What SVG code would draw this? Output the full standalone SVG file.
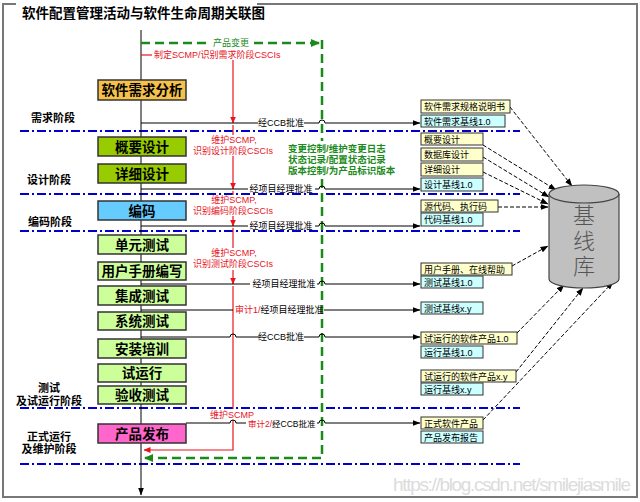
<svg xmlns="http://www.w3.org/2000/svg" width="640" height="502" viewBox="0 0 640 502">
<defs>
<marker id="ab" markerWidth="8" markerHeight="6" refX="7.5" refY="3" orient="auto" markerUnits="userSpaceOnUse"><path d="M0,0 L8,3 L0,6 Z" fill="#000"/></marker>
<marker id="ar" markerWidth="7" markerHeight="6" refX="6.5" refY="3" orient="auto" markerUnits="userSpaceOnUse"><path d="M0,0 L7,3 L0,6 Z" fill="#e8141e"/></marker>
<marker id="ag" markerWidth="9" markerHeight="8" refX="8" refY="4" orient="auto" markerUnits="userSpaceOnUse"><path d="M0,0 L9,4 L0,8 Z" fill="#1a8a1a"/></marker>
</defs>
<style>
text{font-family:"Liberation Sans","Noto Sans CJK SC",sans-serif}
.node rect{stroke:#333;stroke-width:1.5}
.node text{font-size:13.5px;font-weight:bold;text-anchor:middle;fill:#000}
.box rect{stroke:#333;stroke-width:1}
.box text{font-size:9px;fill:#000}
.y{fill:#ffffcc}.c{fill:#ccffff}
.phase{font-size:11px;font-weight:bold;text-anchor:middle;fill:#000}
.blue{stroke:#0000cc;stroke-width:2;stroke-dasharray:9,3,2,3;fill:none}
.blk{stroke:#000;stroke-width:1;fill:none}
.red{stroke:#e8141e;stroke-width:1.2;fill:none}
.grn{stroke:#1a8a1a;stroke-width:2.5;stroke-dasharray:9,5;fill:none}
.dsh{stroke:#000;stroke-width:1;stroke-dasharray:4,2;fill:none}
.lbl{font-size:9px;fill:#000;text-anchor:middle}
.rl{font-size:9px;fill:#e8141e;text-anchor:middle}
.gl{font-size:9.5px;font-weight:bold;fill:#1a8a1a}
.lib{font-size:22px;font-weight:300;fill:#555;text-anchor:middle}
</style>
<rect x="0" y="0" width="640" height="502" fill="#fff"/>
<path d="M16,4 H3 V497 H637 V4 H257" fill="none" stroke="#777" stroke-width="2"/>
<text x="22" y="18" font-size="13.5" font-weight="bold" fill="#000">软件配置管理活动与软件生命周期关联图</text>

<g id="phases">
<text class="phase" x="53" y="122">需求阶段</text>
<text class="phase" x="49" y="184">设计阶段</text>
<text class="phase" x="50" y="226">编码阶段</text>
<text class="phase" x="49" y="392">测试</text>
<text class="phase" x="49" y="405">及试运行阶段</text>
<text class="phase" x="49" y="441">正式运行</text>
<text class="phase" x="49" y="453">及维护阶段</text>
</g>

<g id="separators">
<path class="blue" d="M20,131 H520"/>
<path class="blue" d="M20,194 H520"/>
<path class="blue" d="M20,231 H520"/>
<path class="blue" d="M20,408 H520"/>
<path class="blue" d="M20,464 H520"/>
</g>

<g id="connectors">
<path class="blk" d="M141,30 V495" marker-end="url(#ab)"/>
<!-- green change control loop -->
<path class="grn" d="M141,43 H208"/>
<path class="grn" d="M254,43 H319" marker-end="url(#ag)"/>
<path class="grn" d="M322,40 V141"/>
<path class="grn" d="M322,179 V458 H145" marker-end="url(#ag)"/>
<text x="231" y="46" font-size="9" fill="#1a8a1a" text-anchor="middle">产品变更</text>
<!-- red SCM line -->
<path class="red" d="M141,55 H152"/>
<text x="154" y="58" font-size="9" fill="#e8141e">制定SCMP/识别需求阶段CSCIs</text>
<path class="red" d="M233,60 V123" marker-end="url(#ar)"/>
<path class="red" d="M233,125 V135"/>
<path class="red" d="M233,156 V189" marker-end="url(#ar)"/>
<path class="red" d="M233,191 V195"/>
<path class="red" d="M233,216 V226" marker-end="url(#ar)"/>
<path class="red" d="M233,228 V248"/>
<path class="red" d="M233,270 V284" marker-end="url(#ar)"/>
<path class="red" d="M233,286 V409"/>
<path class="red" d="M233,420 V450 H144" marker-end="url(#ar)"/>
<text class="rl" x="234" y="143">维护SCMP,</text>
<text class="rl" x="233" y="154">识别设计阶段CSCIs</text>
<text class="rl" x="234" y="203">维护SCMP,</text>
<text class="rl" x="233" y="214">识别编码阶段CSCIs</text>
<text class="rl" x="234" y="256">维护SCMP,</text>
<text class="rl" x="233" y="267">识别测试阶段CSCIs</text>
<text class="rl" x="232" y="417.5">维护SCMP</text>
<!-- black approval lines -->
<path class="blk" d="M141,123 H258"/>
<path class="blk" d="M304,123 H319 a3,3 0 0 1 6,0 H420" marker-end="url(#ab)"/>
<text class="lbl" x="281" y="126">经CCB批准</text>
<path class="blk" d="M141,189 H248"/>
<path class="blk" d="M315,189 H319 a3,3 0 0 1 6,0 H420" marker-end="url(#ab)"/>
<text class="lbl" x="281" y="192">经项目经理批准</text>
<path class="blk" d="M141,226 H248"/>
<path class="blk" d="M315,226 H319 a3,3 0 0 1 6,0 H420" marker-end="url(#ab)"/>
<text class="lbl" x="281" y="229">经项目经理批准</text>
<path class="blk" d="M141,284 H250"/>
<path class="blk" d="M317,284 H319 a3,3 0 0 1 6,0 H420" marker-end="url(#ab)"/>
<text class="lbl" x="284" y="287">经项目经理批准</text>
<path class="blk" d="M141,310 H233"/>
<path class="blk" d="M324,310 H420" marker-end="url(#ab)"/>
<text x="235" y="313" font-size="9"><tspan fill="#e8141e">审计1/</tspan><tspan fill="#000">经项目经理批准</tspan></text>
<path class="blk" d="M141,337 H230 a3,3 0 0 1 6,0 H259"/>
<path class="blk" d="M304,337 H319 a3,3 0 0 1 6,0 H420" marker-end="url(#ab)"/>
<text class="lbl" x="281" y="340">经CCB批准</text>
<path class="blk" d="M186,423 H230 a3,3 0 0 1 6,0 H246"/>
<path class="blk" d="M317,423 H319 a3,3 0 0 1 6,0 H420" marker-end="url(#ab)"/>
<text x="248" y="427" font-size="8.5"><tspan fill="#e8141e">审计2/</tspan><tspan fill="#000">经CCB批准</tspan></text>
<!-- green note -->
<text class="gl" x="288" y="152">变更控制/维护变更日志</text>
<text class="gl" x="288" y="163">状态记录/配置状态记录</text>
<text class="gl" x="288" y="174">版本控制/为产品标识版本</text>
<!-- dashed to baseline library -->
<path class="dsh" d="M510,107 L572,186" marker-end="url(#ab)"/>
<path class="dsh" d="M483,145 L556,190" marker-end="url(#ab)"/>
<path class="dsh" d="M483,157 L549,197" marker-end="url(#ab)"/>
<path class="dsh" d="M483,172 L548,204" marker-end="url(#ab)"/>
<path class="dsh" d="M498,207 L548,207" stroke-width="1.5" stroke-dasharray="6,3" marker-end="url(#ab)"/>
<path class="dsh" d="M512,266 L548,246" marker-end="url(#ab)"/>
<path class="dsh" d="M517,333 L564,285" marker-end="url(#ab)"/>
<path class="dsh" d="M516,372 L583,288" marker-end="url(#ab)"/>
<path class="dsh" d="M483,420 L613,282" marker-end="url(#ab)"/>
</g>

<g id="n-req" class="node"><rect x="98" y="80" width="88" height="20" fill="#f5c14a"/><text x="142" y="95">软件需求分析</text></g>
<g id="n-hld" class="node"><rect x="98" y="137" width="88" height="19" fill="#99cc00"/><text x="142" y="151.5">概要设计</text></g>
<g id="n-dd" class="node"><rect x="98" y="164" width="88" height="19" fill="#99cc00"/><text x="142" y="178.5">详细设计</text></g>
<g id="n-code" class="node"><rect x="98" y="201" width="88" height="19" fill="#66ccff"/><text x="142" y="215.5">编码</text></g>
<g id="n-ut" class="node"><rect x="98" y="235" width="88" height="19" fill="#ccff99"/><text x="142" y="249.5">单元测试</text></g>
<g id="n-man" class="node"><rect x="98" y="262" width="88" height="18" fill="#ccff99"/><text x="142" y="276">用户手册编写</text></g>
<g id="n-it" class="node"><rect x="98" y="286" width="88" height="19" fill="#ccff99"/><text x="142" y="300.5">集成测试</text></g>
<g id="n-st" class="node"><rect x="98" y="312" width="88" height="18" fill="#ccff99"/><text x="142" y="326">系统测试</text></g>
<g id="n-inst" class="node"><rect x="98" y="339" width="88" height="19" fill="#ccff99"/><text x="142" y="353.5">安装培训</text></g>
<g id="n-trial" class="node"><rect x="98" y="364" width="88" height="18" fill="#ccff99"/><text x="142" y="378">试运行</text></g>
<g id="n-acc" class="node"><rect x="98" y="386" width="88" height="18" fill="#ccff99"/><text x="142" y="400">验收测试</text></g>
<g id="n-rel" class="node"><rect x="98" y="424" width="88" height="19" fill="#ff66cc"/><text x="142" y="438.5">产品发布</text></g>

<g id="b-srs" class="box"><rect class="y" x="421" y="100" width="89" height="13"/><text x="424" y="110">软件需求规格说明书</text></g>
<g id="b-rbl" class="box"><rect class="c" x="421" y="115" width="84" height="12"/><text x="424" y="124.5">软件需求基线1.0</text></g>
<g id="b-hld" class="box"><rect class="y" x="421" y="133" width="62" height="12"/><text x="424" y="142.5">概要设计</text></g>
<g id="b-db" class="box"><rect class="y" x="421" y="148" width="62" height="13"/><text x="424" y="158">数据库设计</text></g>
<g id="b-dd" class="box"><rect class="y" x="421" y="163" width="62" height="13"/><text x="424" y="173">详细设计</text></g>
<g id="b-dbl" class="box"><rect class="c" x="421" y="178" width="62" height="13"/><text x="424" y="188">设计基线1.0</text></g>
<g id="b-src" class="box"><rect class="y" x="421" y="200" width="77" height="12"/><text x="424" y="209.5">源代码、执行码</text></g>
<g id="b-cbl" class="box"><rect class="c" x="421" y="213" width="62" height="13"/><text x="424" y="223">代码基线1.0</text></g>
<g id="b-man" class="box"><rect class="y" x="421" y="263" width="91" height="12"/><text x="424" y="272.5">用户手册、在线帮助</text></g>
<g id="b-tbl" class="box"><rect class="c" x="421" y="276" width="62" height="12"/><text x="424" y="285.5">测试基线1.0</text></g>
<g id="b-tblx" class="box"><rect class="c" x="421" y="302" width="62" height="12"/><text x="424" y="311.5">测试基线x.y</text></g>
<g id="b-trp" class="box"><rect class="y" x="421" y="332" width="96" height="12"/><text x="424" y="341.5">试运行的软件产品1.0</text></g>
<g id="b-obl" class="box"><rect class="c" x="421" y="346" width="62" height="12"/><text x="424" y="355.5">运行基线1.0</text></g>
<g id="b-trpx" class="box"><rect class="y" x="421" y="370" width="95" height="12"/><text x="424" y="379.5">试运行的软件产品x.y</text></g>
<g id="b-oblx" class="box"><rect class="c" x="421" y="383" width="62" height="12"/><text x="424" y="392.5">运行基线x.y</text></g>
<g id="b-prod" class="box"><rect class="y" x="421" y="417" width="62" height="12"/><text x="424" y="426.5">正式软件产品</text></g>
<g id="b-rep" class="box"><rect class="c" x="421" y="431" width="62" height="12"/><text x="424" y="440.5">产品发布报告</text></g>

<g id="baseline-lib">
<path d="M549,194 A35,9 0 0 1 619,194 V279 A35,9 0 0 1 549,279 Z" fill="#c0c0c0" stroke="#444" stroke-width="1.2"/>
<path d="M549,194 A35,9 0 0 0 619,194" fill="none" stroke="#444" stroke-width="1.2"/>
<text class="lib" x="584" y="223">基</text>
<text class="lib" x="584" y="249">线</text>
<text class="lib" x="584" y="274">库</text>
</g>

<text x="631" y="491" font-size="19" fill="#dcdcdc" text-anchor="end" textLength="238">https://blog.csdn.net/smilejiasmile</text>
</svg>
